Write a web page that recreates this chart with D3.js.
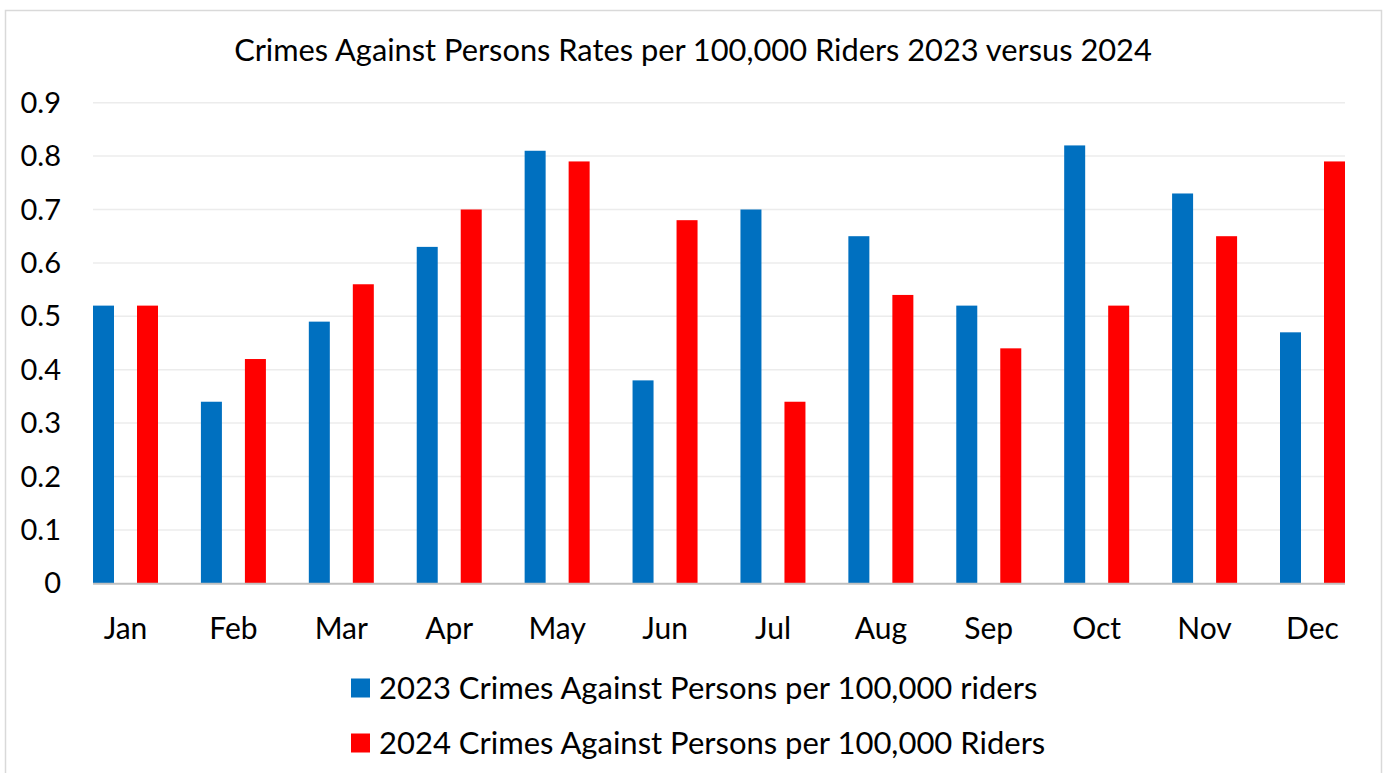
<!DOCTYPE html>
<html><head><meta charset="utf-8">
<script src="https://cdn.jsdelivr.net/npm/d3@7"></script>
<style>html,body{margin:0;padding:0;background:#fff;}svg{display:block;}</style>
</head><body>
<svg id="chart" width="1384" height="773"></svg>
<script>
const months = ["Jan","Feb","Mar","Apr","May","Jun","Jul","Aug","Sep","Oct","Nov","Dec"];
const values2023 = [0.52,0.34,0.49,0.63,0.81,0.38,0.70,0.65,0.52,0.82,0.73,0.47];
const values2024 = [0.52,0.42,0.56,0.70,0.79,0.68,0.34,0.54,0.44,0.52,0.65,0.79];
const seriesNames = ["2023 Crimes Against Persons per 100,000 riders","2024 Crimes Against Persons per 100,000 Riders"];
const seriesColors = ["#0070C0","#FF0000"];
const yTicks = [0,0.1,0.2,0.3,0.4,0.5,0.6,0.7,0.8,0.9];
const title = "Crimes Against Persons Rates per 100,000 Riders 2023 versus 2024";

const font = "Lato, 'Open Sans', sans-serif";
const svg = d3.select("#chart");
svg.append("rect").attr("x",5.5).attr("y",10.5).attr("width",1376).attr("height",780)
  .attr("fill","#fff").attr("stroke","#d9d9d9").attr("stroke-width",1.5);

const plotLeft = 93, plotRight = 1345, plotTop = 102.7, plotBottom = 583.3;
const groupW = 65;
const step = (plotRight - plotLeft - groupW) / 11;
const x0 = d3.scaleBand().domain(months).range([plotLeft, plotLeft + step*12]).paddingInner(0).paddingOuter(0);
const x1 = d3.scaleBand().domain([0,1]).range([0, groupW]).paddingInner(23/44).paddingOuter(0);
const y = d3.scaleLinear().domain([0,0.9]).range([plotBottom, plotTop]);

// gridlines
svg.append("g").selectAll("line").data(yTicks.filter(t=>t>0)).join("line")
  .attr("x1",plotLeft).attr("x2",plotRight)
  .attr("y1",d=>y(d)).attr("y2",d=>y(d))
  .attr("stroke","#ececec").attr("stroke-width",1.5);

// y labels
svg.append("g").selectAll("text").data(yTicks).join("text")
  .attr("x",61).attr("y",d=>y(d)).attr("dy","0.35em")
  .attr("text-anchor","end").attr("font-family",font).attr("font-size",29)
  .attr("fill","#000").text(d=>d===0?"0":d3.format(".1f")(d));

// bars
const series = [values2023, values2024];
const g = svg.append("g");
series.forEach((vals, si) => {
  g.append("g").selectAll("rect").data(months.map((m,i)=>({m, v: vals[i]}))).join("rect")
    .attr("x", d => x0(d.m) + x1(si))
    .attr("width", x1.bandwidth())
    .attr("y", d => y(d.v))
    .attr("height", d => y(0) - y(d.v))
    .attr("fill", seriesColors[si]);
});

// x axis line
svg.append("line").attr("x1",plotLeft).attr("x2",plotRight)
  .attr("y1",plotBottom+0.5).attr("y2",plotBottom+0.5)
  .attr("stroke","#bfbfbf").attr("stroke-width",2);

// month labels
svg.append("g").selectAll("text").data(months).join("text")
  .attr("x", m => x0(m) + groupW/2).attr("y", 628).attr("dy","0.35em")
  .attr("text-anchor","middle").attr("font-family",font).attr("font-size",30)
  .attr("fill","#000").text(m=>m);

// title
svg.append("text").attr("x",693).attr("y",50).attr("dy","0.35em")
  .attr("text-anchor","middle").attr("font-family",font).attr("font-size",30.8)
  .attr("fill","#000").text(title);

// legend
const leg = svg.append("g");
seriesNames.forEach((name, i) => {
  const cy = 688 + i*55;
  leg.append("rect").attr("x",351).attr("y",cy-9.5).attr("width",19).attr("height",19).attr("fill",seriesColors[i]);
  leg.append("text").attr("x",379).attr("y",cy).attr("dy","0.35em")
    .attr("font-family",font).attr("font-size",31).attr("fill","#000").text(name);
});
</script>
</body></html>
